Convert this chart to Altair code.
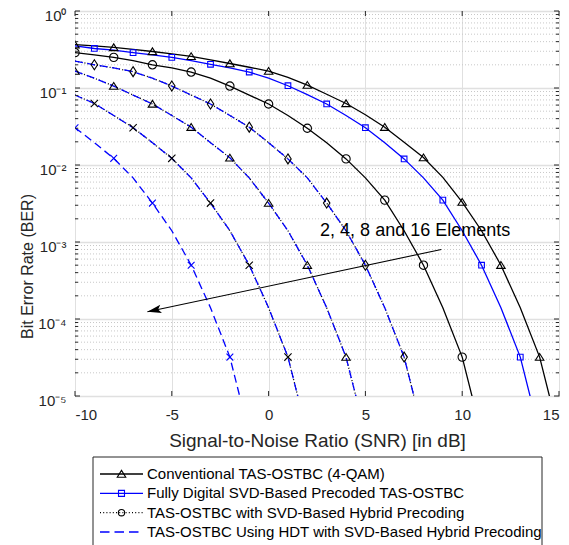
import altair as alt
import pandas as pd

FONT = "Liberation Sans"
INK = "#262626"
BLUE = "#0000ff"

# ---------------- data ----------------
snr_conv = list(range(-10, 16))
ber_conv = [0.365, 0.352, 0.336, 0.318, 0.298, 0.278, 0.258, 0.232, 0.208, 0.186, 0.166,
            0.137, 0.109, 0.083, 0.063, 0.045, 0.031, 0.0198, 0.0125, 0.0069, 0.0033,
            0.0014, 5.0e-4, 1.4e-4, 3.2e-5, 3.2e-6]
mk_conv = [-10, -8, -6, -4, -2, 0, 2, 4, 6, 8, 10, 12, 14]

snr_fd = list(range(-10, 15))
ber_fd = [0.352, 0.326, 0.31, 0.288, 0.27, 0.25, 0.226, 0.203, 0.183, 0.161, 0.134, 0.107,
          0.082, 0.062, 0.044, 0.0305, 0.0195, 0.012, 0.0068, 0.0035, 0.0014, 5.0e-4,
          1.4e-4, 3.2e-5, 3.2e-6]
mk_fd = [-9, -7, -5, -3, -1, 1, 3, 5, 7, 9, 11, 13]

snr_circ = list(range(-10, 12))
ber_circ = [0.288, 0.27, 0.25, 0.226, 0.2, 0.182, 0.161, 0.134, 0.106, 0.081, 0.062, 0.044,
            0.030, 0.0195, 0.012, 0.0068, 0.0035, 0.0014, 5.0e-4, 1.4e-4, 3.2e-5, 3.2e-6]
mk_circ = [-10, -8, -6, -4, -2, 0, 2, 4, 6, 8, 10]

snr_dia = list(range(-10, 9))
ber_dia = [0.224, 0.2, 0.182, 0.163, 0.134, 0.106, 0.081, 0.062, 0.044, 0.031, 0.0195,
           0.012, 0.0068, 0.0032, 0.0014, 5.0e-4, 1.4e-4, 3.2e-5, 3.2e-6]
mk_dia = [-9, -7, -5, -3, -1, 1, 3, 5, 7]

snr_tri = list(range(-10, 6))
ber_tri = [0.166, 0.134, 0.106, 0.081, 0.062, 0.044, 0.031, 0.0195, 0.0124, 0.0068,
           0.0032, 0.0014, 5.0e-4, 1.4e-4, 3.2e-5, 3.2e-6]
mk_tri = [-10, -8, -6, -4, -2, 0, 2, 4]

snr_bx = list(range(-10, 3))
ber_bx = [0.081, 0.063, 0.044, 0.0305, 0.0195, 0.0122, 0.0068, 0.0032, 0.0014, 5.0e-4,
          1.4e-4, 3.2e-5, 3.2e-6]
mk_bx = [-9, -7, -5, -3, -1, 1]

snr_ux = list(range(-10, 0))
ber_ux = [0.0305, 0.0195, 0.0122, 0.0068, 0.0032, 0.0014, 5.0e-4, 1.4e-4, 3.2e-5, 3.2e-6]
mk_ux = [-10, -8, -6, -4, -2]

x_ticks = [-10, -5, 0, 5, 10, 15]
y_decades = [1, 0.1, 0.01, 0.001, 1e-4, 1e-5]
y_labels = ["10⁰", "10⁻¹", "10⁻²", "10⁻³", "10⁻⁴", "10⁻⁵"]
y_minor = [m * d for d in [0.1, 0.01, 0.001, 1e-4, 1e-5] for m in range(2, 10)]

legend_labels = [
    "Conventional TAS-OSTBC (4-QAM)",
    "Fully Digital SVD-Based Precoded TAS-OSTBC",
    "TAS-OSTBC with SVD-Based Hybrid Precoding",
    "TAS-OSTBC Using HDT with SVD-Based Hybrid Precoding",
]

note_text = ["2, 4, 8 and 16 Elements"]
note_snr = [2.66]
note_ber = [1.2e-3]
arrow_snr = [8.92, -6.26]
arrow_ber = [8.0e-4, 1.24e-4]

# ---------------- shapes ----------------
TRI = "M0,-0.85L1,0.75L-1,0.75Z"
DIA = "M0,-1L0.65,0L0,1L-0.65,0Z"
XSH = "M-1,-1L1,1M-1,1L1,-1"
ARROW = "M0,0L-1,-0.3L-0.78,0L-1,0.3Z"

W, H = 484, 385

# ---------------- scales / axes ----------------
label_expr = " : ".join(
    f"datum.value > {v * 0.5} ? '{t}'" for v, t in zip(y_decades[:-1], y_labels[:-1])
) + f" : '{y_labels[-1]}'"

X = alt.X("snr:Q",
          scale=alt.Scale(domain=[-10, 15], nice=False, zero=False),
          axis=alt.Axis(values=x_ticks, labelExpr="'' + datum.value", grid=True,
                        gridColor="#e0e0e0", gridWidth=1, ticks=False, tickSize=0,
                        domain=False, labelPadding=11, labelFont=FONT, labelFontSize=15,
                        labelColor=INK, title="Signal-to-Noise Ratio (SNR) [in dB]",
                        titleFont=FONT, titleFontSize=19, titleFontWeight="normal",
                        titleColor=INK, titleX=242, titleY=50, titleAlign="center",
                        titleBaseline="alphabetic"))
Y = alt.Y("ber:Q",
          scale=alt.Scale(type="log", domain=[1e-5, 1], nice=False),
          axis=alt.Axis(values=y_decades, labelExpr=label_expr, grid=True,
                        gridColor="#e0e0e0", gridWidth=1.5, ticks=False, tickSize=0,
                        domain=False, labelPadding=9, labelFont=FONT, labelFontSize=15,
                        labelColor=INK, labelOffset=4.5, title="Bit Error Rate (BER)",
                        titleFont=FONT, titleFontSize=16, titleFontWeight="normal",
                        titleColor=INK, titleX=-43, titleY=255, titleAngle=270,
                        titleAlign="center", titleBaseline="alphabetic"))


def sdf(xs, ys):
    return pd.DataFrame({"snr": xs, "ber": ys})


def mdf(xs, ys, mk):
    d = sdf(xs, ys)
    return d[d["snr"].isin(mk)]


def line(df, color, dash=None, width=1.3):
    kw = dict(color=color, strokeWidth=width, clip=True)
    if dash:
        kw["strokeDash"] = dash
    return alt.Chart(df).mark_line(**kw).encode(x=X, y=Y)


def pts(df, shape, size, color="black", width=1.1):
    return alt.Chart(df).mark_point(shape=shape, size=size, color=color, filled=False,
                                    strokeWidth=width, opacity=1, clip=True).encode(x=X, y=Y)


DASH = [8, 4.5]
DOT = [1, 2.2]

minor = alt.Chart(pd.DataFrame({"ber": y_minor})).mark_rule(
    color="#c8c8c8", strokeWidth=1, strokeDash=[1, 2]).encode(y=Y)

# inside ticks
ymaj = pd.DataFrame({"ber": y_decades})
ymin = pd.DataFrame({"ber": y_minor})
xt = pd.DataFrame({"snr": x_ticks})
tick_kw = dict(color=INK, strokeWidth=1)
ticks = [
    alt.Chart(ymaj).mark_rule(**tick_kw).encode(y=Y, x=alt.value(0), x2=alt.value(5)),
    alt.Chart(ymaj).mark_rule(**tick_kw).encode(y=Y, x=alt.value(W - 5), x2=alt.value(W)),
    alt.Chart(ymin).mark_rule(**tick_kw).encode(y=Y, x=alt.value(0), x2=alt.value(3)),
    alt.Chart(ymin).mark_rule(**tick_kw).encode(y=Y, x=alt.value(W - 3), x2=alt.value(W)),
    alt.Chart(xt).mark_rule(**tick_kw).encode(x=X, y=alt.value(H - 5), y2=alt.value(H)),
    alt.Chart(xt).mark_rule(**tick_kw).encode(x=X, y=alt.value(0), y2=alt.value(5)),
]

curves = [
    line(sdf(snr_conv, ber_conv), "black"),
    line(sdf(snr_fd, ber_fd), BLUE),
    line(sdf(snr_circ, ber_circ), "black"),
    line(sdf(snr_dia, ber_dia), "black", DOT),
    line(sdf(snr_dia, ber_dia), BLUE, DASH),
    line(sdf(snr_tri, ber_tri), "black", DOT),
    line(sdf(snr_tri, ber_tri), BLUE, DASH),
    line(sdf(snr_bx, ber_bx), "black", DOT),
    line(sdf(snr_bx, ber_bx), BLUE, DASH),
    line(sdf(snr_ux, ber_ux), BLUE, DASH),
]
markers = [
    pts(mdf(snr_conv, ber_conv, mk_conv), TRI, 72),
    pts(mdf(snr_fd, ber_fd, mk_fd), "square", 32, BLUE),
    pts(mdf(snr_circ, ber_circ, mk_circ), "circle", 69),
    pts(mdf(snr_dia, ber_dia, mk_dia), DIA, 100),
    pts(mdf(snr_tri, ber_tri, mk_tri), TRI, 72),
    pts(mdf(snr_bx, ber_bx, mk_bx), XSH, 53),
    pts(mdf(snr_ux, ber_ux, mk_ux), XSH, 46, BLUE),
]

note = alt.Chart(pd.DataFrame({"snr": note_snr, "ber": note_ber, "t": note_text})).mark_text(
    align="left", baseline="alphabetic", font=FONT, fontSize=18, color="black"
).encode(x=X, y=Y, text="t:N")
arrow_df = pd.DataFrame({"snr": arrow_snr, "ber": arrow_ber, "o": [0, 1]})
arrow_line = alt.Chart(arrow_df).mark_line(color="black", strokeWidth=1.1).encode(
    x=X, y=Y, order="o:Q")
arrow_head = alt.Chart(arrow_df.iloc[[1]]).mark_point(
    shape=ARROW, size=784, filled=True, color="black", opacity=1, angle=168
).encode(x=X, y=Y)

main = alt.layer(minor, *curves, *markers, *ticks, arrow_line, arrow_head, note)

# ---------------- legend ----------------
leg_df = pd.DataFrame({"row": list(range(len(legend_labels))), "label": legend_labels})
LY = alt.Y("row:Q", scale=alt.Scale(domain=[0, 3], range=[463, 521]), axis=None)


def lrow(i):
    return alt.Chart(leg_df).transform_filter(f"datum.row == {i}")


box = alt.Chart(pd.DataFrame({"k": [0]})).mark_rect(
    fill="white", stroke=INK, strokeWidth=1
).encode(x=alt.value(18), x2=alt.value(467), y=alt.value(446), y2=alt.value(536))

leg_lines = [
    lrow(0).mark_rule(color="black", strokeWidth=1.3).encode(x=alt.value(25), x2=alt.value(68), y=LY),
    lrow(1).mark_rule(color=BLUE, strokeWidth=1.3).encode(x=alt.value(25), x2=alt.value(68), y=LY),
    lrow(2).mark_rule(color="black", strokeWidth=1.3, strokeDash=DOT).encode(x=alt.value(25), x2=alt.value(68), y=LY),
    lrow(3).mark_rule(color=BLUE, strokeWidth=1.3, strokeDash=[9.5, 5]).encode(x=alt.value(25), x2=alt.value(68), y=LY),
]
leg_marks = [
    lrow(0).mark_point(shape=TRI, size=72, color="black", filled=False, strokeWidth=1.1, opacity=1).encode(x=alt.value(46.5), y=LY),
    lrow(1).mark_point(shape="square", size=36, color=BLUE, filled=False, strokeWidth=1.1, opacity=1).encode(x=alt.value(46.5), y=LY),
    lrow(2).mark_point(shape="circle", size=40, color="black", filled=False, strokeWidth=1.1, opacity=1).encode(x=alt.value(46.5), y=LY),
]
leg_text = alt.Chart(leg_df).mark_text(
    align="left", baseline="middle", font=FONT, fontSize=15, color="black"
).encode(x=alt.value(72), y=LY, text="label:N")

legend = alt.layer(box, *leg_lines, *leg_marks, leg_text)

chart = alt.layer(main, legend).resolve_scale(y="independent").properties(
    width=W, height=H,
    autosize=alt.AutoSizeParams(type="none"),
    padding={"left": 67, "top": 3, "right": 2, "bottom": 152},
).configure_view(stroke=INK, strokeWidth=1)

chart.save("out.html", embed_options={"renderer": "svg", "actions": False})
